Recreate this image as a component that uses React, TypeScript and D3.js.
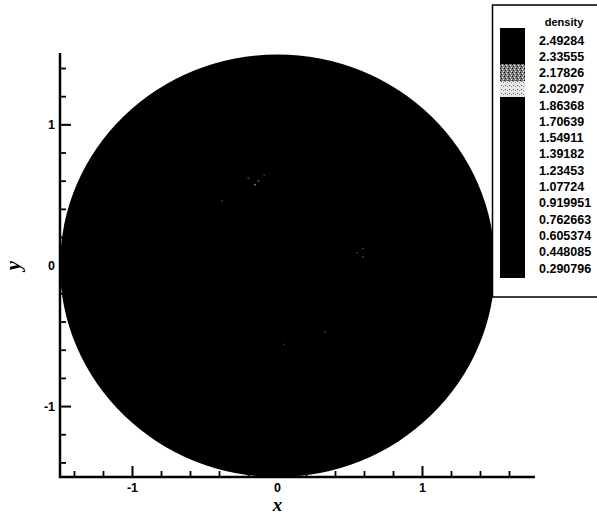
import React from "react";
import * as d3 from "d3";

// ---- data ----
const levelValues = [2.49284, 2.33555, 2.17826, 2.02097, 1.86368, 1.70639, 1.54911, 1.39182, 1.23453, 1.07724, 0.919951, 0.762663, 0.605374, 0.448085, 0.290796];
const levelLabels = ["2.49284", "2.33555", "2.17826", "2.02097", "1.86368", "1.70639", "1.54911", "1.39182", "1.23453", "1.07724", "0.919951", "0.762663", "0.605374", "0.448085", "0.290796"];
const majorTicksX = [-1, 0, 1];
const majorTicksY = [-1, 0, 1];
const minorTicksX = [-1.4, -1.2, -0.8, -0.6, -0.4, -0.2, 0.2, 0.4, 0.6, 0.8, 1.2, 1.4, 1.6];
const minorTicksY = [-1.4, -1.2, -0.8, -0.6, -0.4, -0.2, 0.2, 0.4, 0.6, 0.8, 1.2, 1.4];
const fieldRadius = 1.5;
const fieldDensity = 0.35; // nearly uniform low density over the disc
// faint high-density speckles inside the field
const speckX = [-0.155, -0.13, -0.2, -0.38, 0.59, 0.59, 0.55, 0.33, 0.045, -0.09];
const speckY = [0.574, 0.6, 0.62, 0.46, 0.12, 0.06, 0.09, -0.47, -0.56, 0.64];
const speckV = [2.1, 1.9, 1.8, 1.7, 1.8, 1.8, 1.7, 1.8, 1.7, 1.7];

// ---- layout ----
const W = 597, H = 514;
const x = d3.scaleLinear().domain([-1.5, 1.776]).range([60, 535]);
const y = d3.scaleLinear().domain([-1.5, 1.51]).range([477, 53]);
const barY = d3.scaleLinear().domain([0.290796, 2.49284]).range([268, 40]);
const colorFor = (v: number) => {
  if (v > 2.3) return "#000";
  if (v > 2.1) return "url(#ditherMid)";
  if (v > 1.95) return "url(#ditherLight)";
  return "#000";
};
const speckColor = d3.scaleLinear<string>().domain([1.6, 2.2]).range(["#262626", "#9a9a9a"]);

export default function App() {
  const tickFont = { fontFamily: "'Liberation Sans', Arial, sans-serif", fontWeight: 700, fontSize: 12.5 } as const;
  const bandEdges = [2.62, ...levelValues.slice(0, -1).map((v, i) => (v + levelValues[i + 1]) / 2), 0.2];
  return (
    <svg width={W} height={H} style={{ position: "absolute", left: 0, top: 0, background: "#fff" }}>
      <defs>
        <pattern id="ditherMid" width="4" height="4" patternUnits="userSpaceOnUse">
          <rect width="4" height="4" fill="#7a7a7a" />
          <rect x="0" y="0" width="1" height="1" fill="#111" />
          <rect x="2" y="1" width="1" height="1" fill="#fff" />
          <rect x="1" y="2" width="1" height="1" fill="#222" />
          <rect x="3" y="3" width="1" height="1" fill="#eee" />
        </pattern>
        <pattern id="ditherLight" width="4" height="4" patternUnits="userSpaceOnUse">
          <rect width="4" height="4" fill="#e8e8e8" />
          <rect x="1" y="1" width="1" height="1" fill="#555" />
          <rect x="3" y="2" width="1" height="1" fill="#888" />
        </pattern>
      </defs>

      {/* density field */}
      <ellipse cx={x(0)} cy={y(0)} rx={x(fieldRadius) - x(0)} ry={y(0) - y(fieldRadius)} fill={colorFor(fieldDensity)} />
      {speckX.map((sx, i) => (
        <rect key={i} x={x(sx) - 1} y={y(speckY[i]) - 1} width={1.6} height={1.6} fill={speckColor(speckV[i])} />
      ))}

      {/* axes */}
      <line x1={x(-1.5)} x2={x(-1.5)} y1={y(1.51)} y2={y(-1.5) + 1} stroke="#000" strokeWidth={2.5} />
      <line x1={x(-1.5) - 1} x2={x(1.776)} y1={y(-1.5)} y2={y(-1.5)} stroke="#000" strokeWidth={2.5} />
      {majorTicksX.map((t) => (
        <g key={"mx" + t}>
          <line x1={x(t)} x2={x(t)} y1={y(-1.5)} y2={y(-1.5) - 11} stroke="#000" strokeWidth={2} />
          <text x={x(t)} y={y(-1.5) + 15} textAnchor="middle" style={tickFont}>{t}</text>
        </g>
      ))}
      {minorTicksX.map((t) => (
        <line key={"nx" + t} x1={x(t)} x2={x(t)} y1={y(-1.5)} y2={y(-1.5) - 6} stroke="#000" strokeWidth={1.8} />
      ))}
      {majorTicksY.map((t) => (
        <g key={"my" + t}>
          <line x1={x(-1.5)} x2={x(-1.5) + 11} y1={y(t)} y2={y(t)} stroke="#000" strokeWidth={2} />
          <text x={x(-1.5) - 5} y={y(t) + 4.5} textAnchor="end" style={tickFont}>{t}</text>
        </g>
      ))}
      {minorTicksY.map((t) => (
        <line key={"ny" + t} x1={x(-1.5)} x2={x(-1.5) + 6} y1={y(t)} y2={y(t)} stroke="#000" strokeWidth={1.8} />
      ))}
      <text x={x(0)} y={511} textAnchor="middle" style={{ fontFamily: "'Liberation Serif', 'Times New Roman', serif", fontWeight: 700, fontStyle: "italic", fontSize: 19 }}>x</text>
      <text transform={`translate(20, ${y(0)}) rotate(-90)`} textAnchor="middle" style={{ fontFamily: "'Liberation Serif', 'Times New Roman', serif", fontWeight: 700, fontStyle: "italic", fontSize: 21 }}>y</text>

      {/* legend */}
      <rect x={492.5} y={5} width={110} height={292} fill="#fff" stroke="#000" strokeWidth={1.5} />
      <text x={564} y={26} textAnchor="middle" style={{ ...tickFont, fontSize: 11 }}>density</text>
      <rect x={500} y={28} width={25} height={249} fill="#000" rx={1.5} />
      {bandEdges.slice(0, -1).map((top, i) => {
        const bottom = bandEdges[i + 1];
        const y0 = Math.max(28, barY(top));
        const y1 = Math.min(277, barY(bottom));
        return <rect key={"b" + i} x={500} y={y0} width={25} height={y1 - y0 + 0.5} fill={colorFor((top + bottom) / 2)} shapeRendering="crispEdges" />;
      })}
      {levelLabels.map((lab, i) => (
        <text key={lab} x={539} y={barY(levelValues[i]) + 4.5} style={tickFont}>{lab}</text>
      ))}
    </svg>
  );
}
